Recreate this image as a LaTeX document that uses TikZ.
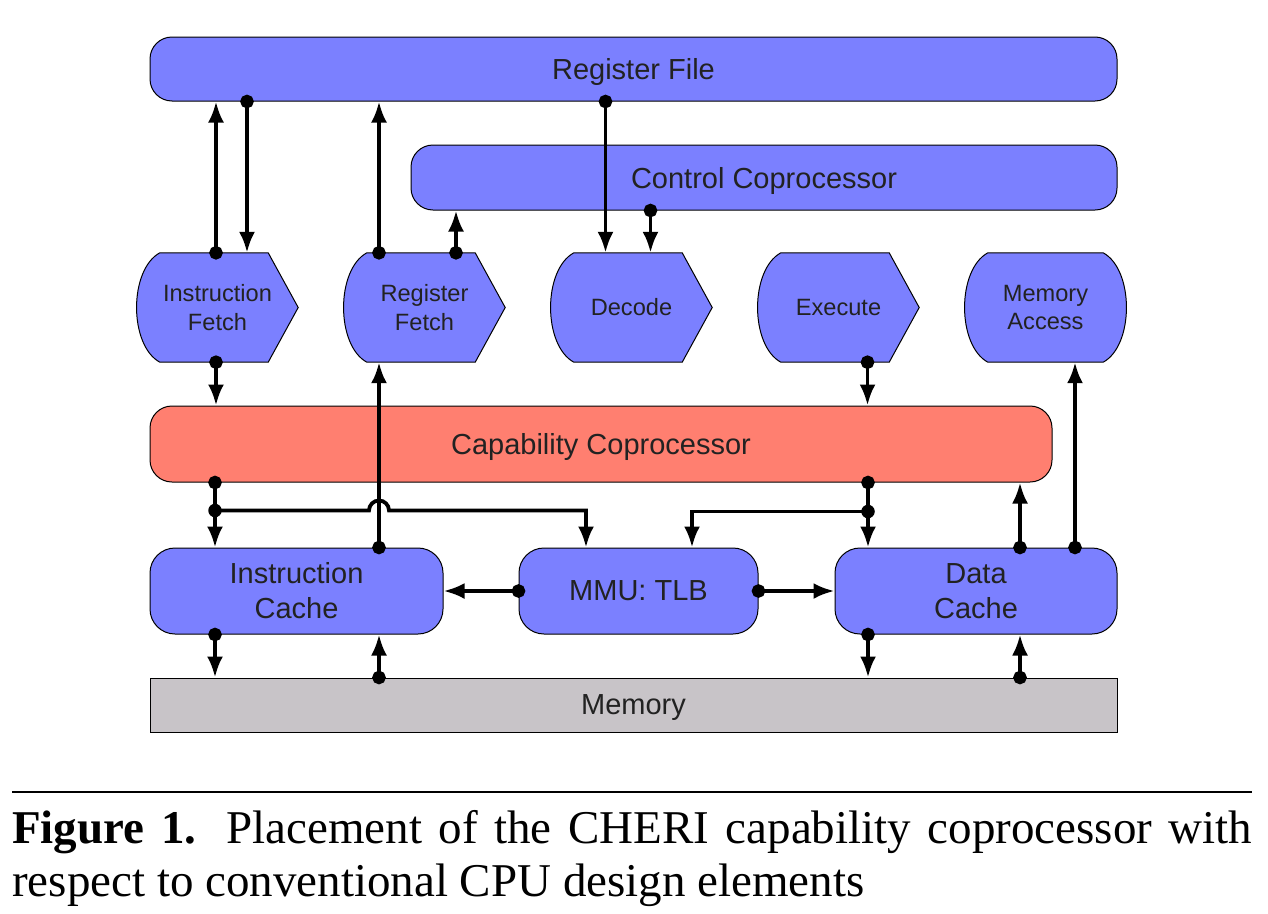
\documentclass[tikz,border=0pt]{standalone}
\usepackage{fontspec}
\setmainfont{Liberation Serif}
\newfontfamily\diagfont{Liberation Sans}
\usepackage{tikz}
\usetikzlibrary{positioning,arrows.meta,backgrounds,calc}

\hyphenpenalty=10000
\tolerance=9999

\definecolor{unitblue}{RGB}{123,128,255}
\definecolor{capred}{RGB}{255,127,112}
\definecolor{memgray}{RGB}{200,196,200}
\definecolor{labelgray}{RGB}{34,34,34}

\newcommand{\arrowstage}[1]{%
  \draw[line width=1pt,fill=unitblue] ($(#1.south west)+(23,0)$)
    .. controls ($(#1.south west)+(-8,-17)$) and ($(#1.north west)+(-8,17)$) .. ($(#1.north west)+(23,0)$)
    -- ($(#1.north east)+(-30,0)$) -- (#1.east) -- ($(#1.south east)+(-30,0)$) -- cycle;}
\newcommand{\roundstage}[1]{%
  \draw[line width=1pt,fill=unitblue] ($(#1.south west)+(23,0)$)
    .. controls ($(#1.south west)+(-8,-17)$) and ($(#1.north west)+(-8,17)$) .. ($(#1.north west)+(23,0)$)
    -- ($(#1.north east)+(-23,0)$)
    .. controls ($(#1.north east)+(8,17)$) and ($(#1.south east)+(8,-17)$) .. ($(#1.south east)+(-23,0)$) -- cycle;}

\begin{document}
\begin{tikzpicture}[x=1pt,y=-1pt,on grid,
  unit/.style={draw,line width=1pt,fill=unitblue,rounded corners=22pt,inner sep=0pt,
    align=center,text=labelgray,font=\diagfont\fontsize{29}{35}\selectfont},
  oneline/.style={text depth=0pt},
  stage/.style={inner sep=0pt,minimum width=161pt,minimum height=109pt,align=center,
    text=labelgray,font=\diagfont\fontsize{23.6}{28.5}\selectfont},
  link/.style={line width=3.8pt,{Circle[length=13.5pt]}-{Latex[length=21pt,width=16pt]},shorten <=-6.75pt},
  bus/.style={line width=3.8pt,-{Latex[length=21pt,width=16pt]}}]
  \useasboundingbox (0,0) rectangle (1268,913);
  \node[unit,oneline,minimum width=967pt,minimum height=64pt] (RegFile) at (633.5,69) {Register File};
  \node[unit,oneline,minimum width=706pt,minimum height=65pt] (Control) at (764,177.5) {Control Coprocessor};
  \node[stage] (IFetch) at (217.5,307.5) {Instruction\\Fetch};
  \node[stage,right=207pt of IFetch] (RFetch) {Register\\Fetch};
  \node[stage,right=207pt of RFetch] (Decode) {Decode};
  \node[stage,right=207pt of Decode] (Execute) {Execute};
  \node[stage,right=207pt of Execute] (MemAcc) {Memory\\Access};
  \begin{pgfonlayer}{background}
    \arrowstage{IFetch}
    \arrowstage{RFetch}
    \arrowstage{Decode}
    \arrowstage{Execute}
    \roundstage{MemAcc}
  \end{pgfonlayer}
  \node[unit,oneline,fill=capred,minimum width=902pt,minimum height=76pt] (CapCo) at (601,444) {Capability Coprocessor};
  \node[unit,rounded corners=25pt,minimum width=293pt,minimum height=86pt] (ICache) at (296.5,591) {Instruction\\Cache};
  \node[unit,oneline,rounded corners=25pt,minimum width=239pt,minimum height=86pt] (MMU) at (638.5,591) {MMU: TLB};
  \node[unit,rounded corners=25pt,minimum width=282pt,minimum height=86pt] (DCache) at (976,591) {Data\\Cache};
  \node[unit,oneline,fill=memgray,sharp corners,minimum width=967pt,minimum height=54pt] (Memory) at (633.5,705) {Memory};

  \draw[link] ([xshift=-1.5pt]IFetch.north) -- ([xshift=-1.5pt]IFetch.north |- RegFile.south);
  \draw[link] ([xshift=29.5pt]IFetch.north |- RegFile.south) -- ([xshift=29.5pt]IFetch.north);
  \draw[link] ([xshift=-45.5pt]RFetch.north) -- ([xshift=-45.5pt]RFetch.north |- RegFile.south);
  \draw[link] ([xshift=31.5pt]RFetch.north) -- ([xshift=31.5pt]RFetch.north |- Control.south);
  \draw[link] ([xshift=-26pt]Decode.north |- RegFile.south) -- ([xshift=-26pt]Decode.north);
  \draw[link] ([xshift=19pt]Decode.north |- Control.south) -- ([xshift=19pt]Decode.north);

  \draw[link] ([xshift=-1.5pt]IFetch.south) -- ([xshift=-1.5pt]IFetch.south |- CapCo.north);
  \draw[link] ([xshift=29pt]Execute.south) -- ([xshift=29pt]Execute.south |- CapCo.north);
  \draw[link] ([xshift=99pt]DCache.north) -- ([xshift=99pt]DCache.north |- MemAcc.south);
  \draw[link] ([xshift=44pt]DCache.north) -- ([xshift=44pt]DCache.north |- CapCo.south);

  \coordinate (jl) at ([xshift=-81.5pt,yshift=37pt]ICache.north);
  \coordinate (jr) at ([xshift=-108pt,yshift=36pt]DCache.north);
  \coordinate (icup) at ([xshift=82.5pt]ICache.north);
  \coordinate (hop) at (jl -| icup);
  \coordinate (mmul) at ([xshift=-52.5pt]MMU.north);
  \coordinate (mmur) at ([xshift=53.5pt]MMU.north);
  \draw[link] (jl |- CapCo.south) -- (jl |- ICache.north);
  \draw[link] (jr |- CapCo.south) -- (jr |- DCache.north);
  \fill (jl) circle[radius=6.75pt];
  \fill (jr) circle[radius=6.75pt];
  \draw[bus] (jl) -- ([xshift=-10pt]hop) arc[start angle=180,end angle=0,radius=10pt] -- (jl -| mmul) -- (mmul);
  \draw[bus] (jr) -- (jr -| mmur) -- (mmur);
  \draw[link] (icup) -- (icup |- RFetch.south);

  \draw[link] (MMU.west) -- (ICache.east);
  \draw[link] (MMU.east) -- (DCache.west);

  \draw[link] ([xshift=-81.5pt]ICache.south) -- ([xshift=-81.5pt]ICache.south |- Memory.north);
  \draw[link] ([xshift=82.5pt]ICache.south |- Memory.north) -- ([xshift=82.5pt]ICache.south);
  \draw[link] ([xshift=-108pt]DCache.south) -- ([xshift=-108pt]DCache.south |- Memory.north);
  \draw[link] ([xshift=44pt]DCache.south |- Memory.north) -- ([xshift=44pt]DCache.south);

  \coordinate (rulel) at (12,792);
  \coordinate (ruler) at (1252,792);
  \draw[line width=1.5pt] (rulel) -- (ruler);
  \node[anchor=north west,inner sep=0pt,text width=1240pt,align=justify,
    font=\fontsize{47}{53}\selectfont] (caption) at (12,810)
    {\textbf{Figure 1.} Placement of the CHERI capability coprocessor with respect to conventional CPU design elements};
\end{tikzpicture}
\end{document}
